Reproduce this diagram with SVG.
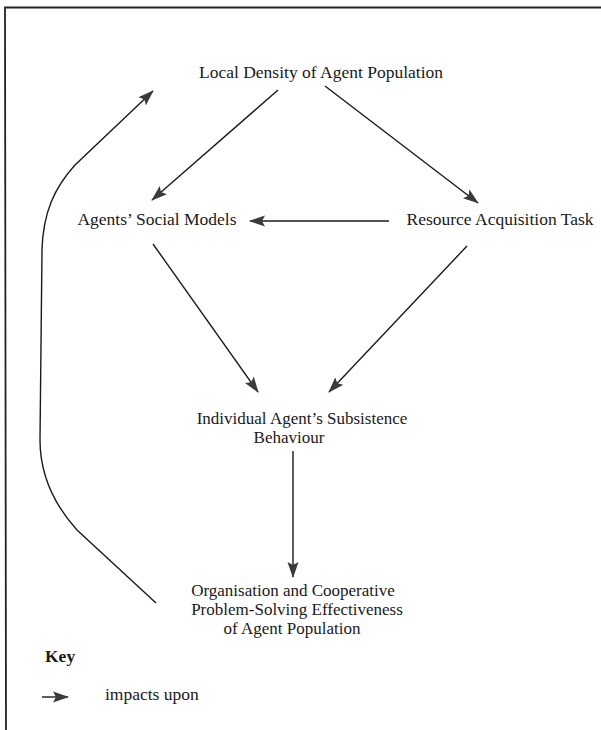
<svg xmlns="http://www.w3.org/2000/svg" width="601" height="730" viewBox="0 0 601 730">
<style>
text{font-family:"Liberation Serif","Times New Roman",serif;font-size:17.5px;fill:#1a1a1a}
.m{font-size:17px}
.c{text-anchor:middle}
.ln{stroke:#1a1a1a;stroke-width:1.4;fill:none;marker-end:url(#ah)}
</style>
<defs>
<marker id="ah" markerUnits="userSpaceOnUse" markerWidth="16" markerHeight="12" viewBox="0 0 16 12" refX="15" refY="6" orient="auto">
<path d="M0,0.5 L16,6 L0,11.5 L3,6 Z" fill="#3a3a3a"/>
</marker>
</defs>
<rect width="601" height="730" fill="#fff"/>
<g id="frame" stroke="#222" stroke-width="1.8" fill="none">
<path d="M6,730 L5,7.5 L601,7.5"/>
</g>
<g id="n1"><text class="c" x="321" y="78">Local Density of Agent Population</text></g>
<g id="n2"><text class="c" x="157" y="225">Agents’ Social Models</text></g>
<g id="n3"><text class="c" x="500" y="225">Resource Acquisition Task</text></g>
<g id="n4"><text class="c m" x="302" y="424">Individual Agent’s Subsistence</text><text class="c m" x="289" y="443">Behaviour</text></g>
<g id="n5"><text class="c m" x="293" y="596">Organisation and Cooperative</text><text class="c m" x="297" y="615">Problem-Solving Effectiveness</text><text class="c m" x="292" y="634">of Agent Population</text></g>
<g id="key"><text x="45" y="662" style="font-weight:bold">Key</text>
<line class="ln" x1="42" y1="697" x2="68" y2="697"/>
<text x="105" y="700">impacts upon</text></g>
<g id="connectors">
<line class="ln" x1="278" y1="90" x2="152" y2="200"/>
<line class="ln" x1="325" y1="86" x2="478" y2="203"/>
<line class="ln" x1="389" y1="221" x2="250" y2="221"/>
<line class="ln" x1="153" y1="244" x2="258" y2="392"/>
<line class="ln" x1="467" y1="246" x2="329" y2="392"/>
<line class="ln" x1="293" y1="451" x2="293" y2="577"/>
<path class="ln" d="M156,603 L77,530 C50,500 40,470 40,440 L42,250 C43,212 55,187 75,165 L153,91"/>
</g>
</svg>
